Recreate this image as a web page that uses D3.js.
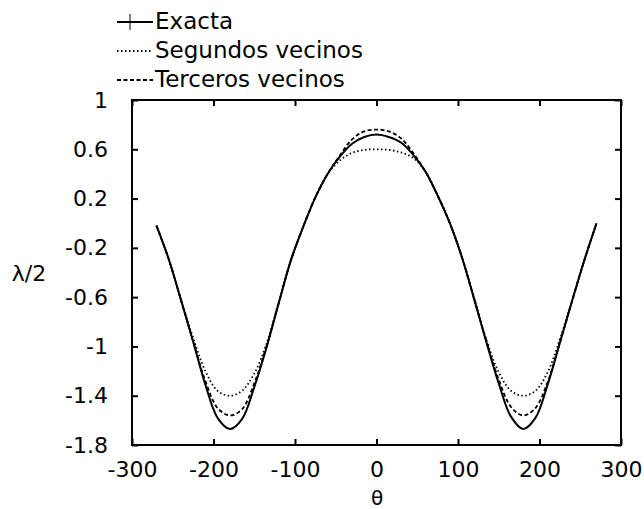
<!DOCTYPE html>
<html>
<head>
<meta charset="utf-8">
<script src="https://cdn.jsdelivr.net/npm/d3@7"></script>
<style>
  body { margin: 0; background: #fff; }
  text { font-family: "DejaVu Sans", sans-serif; fill: #000; }
</style>
</head>
<body>
<div id="chart"></div>
<script>
// angles (deg)
const theta = [-270, -255, -240, -225, -210, -195, -180, -165, -150, -135, -120, -105, -90,
  -75, -60, -45, -30, -15, 0, 15, 30, 45, 60, 75, 90, 105, 120, 135, 150, 165, 180,
  195, 210, 225, 240, 255, 270];

const exacta = [-0.02, -0.29, -0.62, -0.96, -1.31, -1.58, -1.67, -1.59, -1.33, -1.01, -0.65, -0.30, -0.03,
  0.21, 0.40, 0.54, 0.645, 0.70, 0.72, 0.70, 0.655, 0.555, 0.42, 0.225, 0.00, -0.28, -0.62, -0.97, -1.30, -1.57, -1.67,
  -1.58, -1.31, -0.97, -0.63, -0.30, 0.00];

const segundos = [-0.02, -0.29, -0.62, -0.93, -1.20, -1.36, -1.40, -1.36, -1.22, -0.98, -0.64, -0.30, -0.03,
  0.21, 0.40, 0.51, 0.57, 0.595, 0.60, 0.595, 0.575, 0.53, 0.42, 0.225, 0.00, -0.28, -0.61, -0.95, -1.21, -1.36, -1.40,
  -1.36, -1.21, -0.94, -0.63, -0.30, 0.00];

const terceros = [-0.02, -0.29, -0.62, -0.96, -1.28, -1.50, -1.56, -1.51, -1.30, -1.00, -0.65, -0.30, -0.03,
  0.21, 0.40, 0.55, 0.68, 0.745, 0.76, 0.745, 0.69, 0.57, 0.42, 0.225, 0.00, -0.28, -0.62, -0.96, -1.27, -1.49, -1.56,
  -1.50, -1.29, -0.97, -0.63, -0.30, 0.00];

const xTicks = [-300, -200, -100, 0, 100, 200, 300];
const yTicks = [-1.8, -1.4, -1, -0.6, -0.2, 0.2, 0.6, 1];

const seriesNames = ['Exacta', 'Segundos vecinos', 'Terceros vecinos'];
const seriesDash = ['none', '1.5,2.5', '4,2.5'];

const width = 644, height = 509;
const plot = { left: 132, right: 621, top: 100, bottom: 445 };

const svg = d3.select('#chart').append('svg')
  .attr('width', width)
  .attr('height', height);

const x = d3.scaleLinear().domain([-300, 300]).range([plot.left, plot.right]);
const y = d3.scaleLinear().domain([-1.8, 1]).range([plot.bottom, plot.top]);

const fmt = d => String(d);

// bottom axis
const gx = svg.append('g')
  .attr('transform', `translate(0,${plot.bottom})`)
  .call(d3.axisBottom(x).tickValues(xTicks).tickSizeInner(-6).tickSizeOuter(0).tickPadding(16).tickFormat(fmt));
// top axis (ticks only)
const gxt = svg.append('g')
  .attr('transform', `translate(0,${plot.top})`)
  .call(d3.axisTop(x).tickValues(xTicks).tickSizeInner(-6).tickSizeOuter(0).tickFormat(''));
// left axis
const gy = svg.append('g')
  .attr('transform', `translate(${plot.left},0)`)
  .call(d3.axisLeft(y).tickValues(yTicks).tickSizeInner(-6).tickSizeOuter(0).tickPadding(24).tickFormat(fmt));
// right axis (ticks only)
const gyr = svg.append('g')
  .attr('transform', `translate(${plot.right},0)`)
  .call(d3.axisRight(y).tickValues(yTicks).tickSizeInner(-6).tickSizeOuter(0).tickFormat(''));

[gx, gxt, gy, gyr].forEach(g => {
  g.select('.domain').remove();
  g.selectAll('line').attr('stroke', '#000').attr('stroke-width', 2);
  g.selectAll('text').style('font-size', '22px').attr('fill', '#000')
    .style('font-family', '"DejaVu Sans", sans-serif');
});

// frame
svg.append('rect')
  .attr('x', plot.left).attr('y', plot.top)
  .attr('width', plot.right - plot.left)
  .attr('height', plot.bottom - plot.top)
  .attr('fill', 'none').attr('stroke', '#000').attr('stroke-width', 2);

// curves
const line = d3.line()
  .x((d, i) => x(theta[i]))
  .y(d => y(d))
  .curve(d3.curveCatmullRom.alpha(0.5));

[exacta, segundos, terceros].forEach((s, k) => {
  svg.append('path')
    .datum(s)
    .attr('d', line)
    .attr('fill', 'none')
    .attr('stroke', '#000')
    .attr('stroke-width', k === 0 ? 2 : 1.8)
    .attr('stroke-dasharray', seriesDash[k]);
});

// axis titles
svg.append('text')
  .attr('x', 29).attr('y', 273)
  .attr('text-anchor', 'middle')
  .attr('dominant-baseline', 'central')
  .style('font-size', '22px')
  .text('λ/2');

svg.append('text')
  .attr('x', 377).attr('y', 505)
  .attr('text-anchor', 'middle')
  .style('font-size', '20px')
  .text('θ');

// legend
const legY = [22, 51, 80];
seriesNames.forEach((name, k) => {
  svg.append('line')
    .attr('x1', 117).attr('x2', 153)
    .attr('y1', legY[k]).attr('y2', legY[k])
    .attr('stroke', '#000')
    .attr('stroke-width', k === 0 ? 2 : 1.8)
    .attr('stroke-dasharray', seriesDash[k]);
  svg.append('text')
    .attr('x', 155).attr('y', legY[k] + 7)
    .style('font-size', '23px')
    .text(name);
});
// small cross mark on the Exacta sample
svg.append('line')
  .attr('x1', 130).attr('x2', 130)
  .attr('y1', 14).attr('y2', 30)
  .attr('stroke', '#000').attr('stroke-width', 1);
</script>
</body>
</html>
